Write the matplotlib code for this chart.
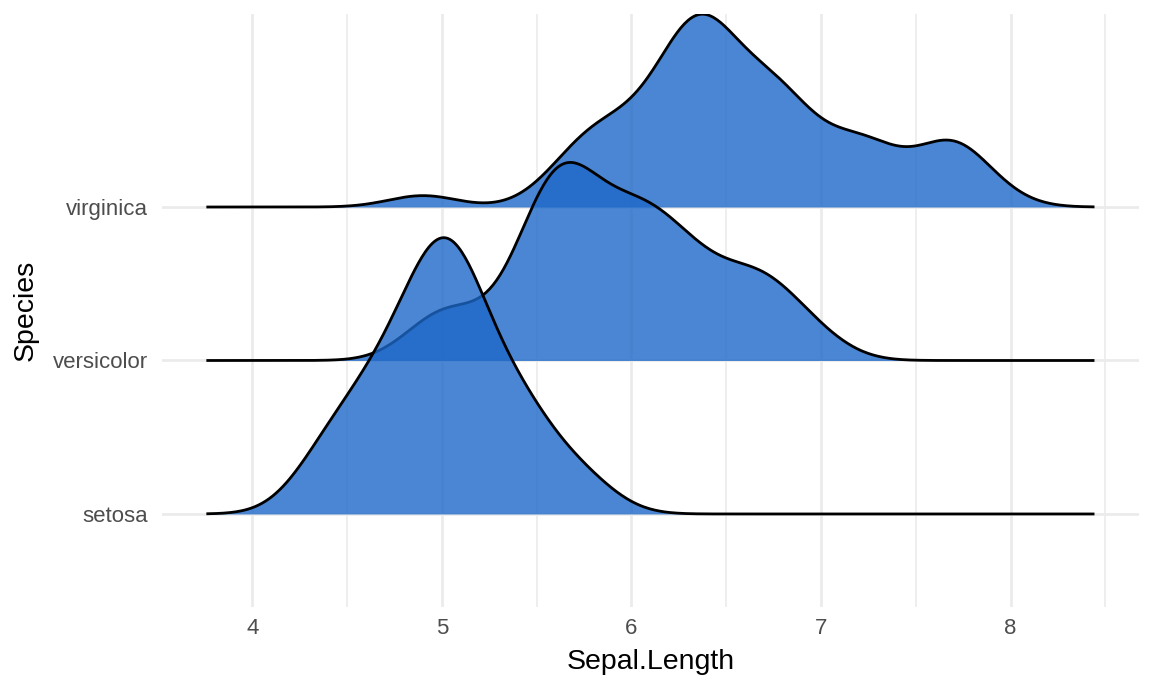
import numpy as np
import matplotlib
matplotlib.use("Agg")
import matplotlib.pyplot as plt

# iris Sepal.Length, by species
species = ["setosa", "versicolor", "virginica"]
setosa = [5.1, 4.9, 4.7, 4.6, 5.0, 5.4, 4.6, 5.0, 4.4, 4.9, 5.4, 4.8, 4.8, 4.3, 5.8,
          5.7, 5.4, 5.1, 5.7, 5.1, 5.4, 5.1, 4.6, 5.1, 4.8, 5.0, 5.0, 5.2, 5.2, 4.7,
          4.8, 5.4, 5.2, 5.5, 4.9, 5.0, 5.5, 4.9, 4.4, 5.1, 5.0, 4.5, 4.4, 5.0, 5.1,
          4.8, 5.1, 4.6, 5.3, 5.0]
versicolor = [7.0, 6.4, 6.9, 5.5, 6.5, 5.7, 6.3, 4.9, 6.6, 5.2, 5.0, 5.9, 6.0, 6.1, 5.6,
              6.7, 5.6, 5.8, 6.2, 5.6, 5.9, 6.1, 6.3, 6.1, 6.4, 6.6, 6.8, 6.7, 6.0, 5.7,
              5.5, 5.5, 5.8, 6.0, 5.4, 6.0, 6.7, 6.3, 5.6, 5.5, 5.5, 6.1, 5.8, 5.0, 5.6,
              5.7, 5.7, 6.2, 5.1, 5.7]
virginica = [6.3, 5.8, 7.1, 6.3, 6.5, 7.6, 4.9, 7.3, 6.7, 7.2, 6.5, 6.4, 6.8, 5.7, 5.8,
             6.4, 6.5, 7.7, 7.7, 6.0, 6.9, 5.6, 7.7, 6.3, 6.7, 7.2, 6.2, 6.1, 6.4, 7.2,
             7.4, 7.9, 6.4, 6.3, 6.1, 7.7, 6.3, 6.4, 6.0, 6.9, 6.7, 6.9, 5.8, 6.8, 6.7,
             6.7, 6.3, 6.5, 6.2, 5.9]
groups = [np.array(setosa), np.array(versicolor), np.array(virginica)]

x_ticks = [4, 5, 6, 7, 8]
ridge_scale = 1.8


def bw_nrd0(x):
    sd = np.std(x, ddof=1)
    iqr = np.percentile(x, 75) - np.percentile(x, 25)
    return 0.9 * min(sd, iqr / 1.34) * len(x) ** -0.2


def gauss_kde(x, grid, bw):
    z = (grid[:, None] - x[None, :]) / bw
    return np.exp(-0.5 * z ** 2).sum(axis=1) / (len(x) * bw * np.sqrt(2 * np.pi))


# joint bandwidth, like ggridges
bw = np.mean([bw_nrd0(g) for g in groups])
all_x = np.concatenate(groups)
lo, hi = all_x.min() - 3 * bw, all_x.max() + 3 * bw
grid = np.linspace(lo, hi, 512)
dens = [gauss_kde(g, grid, bw) for g in groups]
dmax = max(d.max() for d in dens)

fig = plt.figure(figsize=(11.52, 6.91), dpi=100)
ax = fig.add_axes([0.1406, 0.1216, 0.848, 0.858])

fill_col = "#1D68C8"
# draw top ridge first so the lower ones sit on top
for i in reversed(range(len(species))):
    base = i + 1
    h = base + dens[i] / dmax * ridge_scale
    z = 10 + (len(species) - i) * 2
    ax.fill_between(grid, base, h, color=fill_col, alpha=0.8, lw=0, zorder=z)
    ax.plot(grid, h, color="black", lw=2.0, zorder=z + 1, solid_capstyle="butt")

span = hi - lo
ax.set_xlim(lo - 0.05 * span, hi + 0.05 * span)
ax.set_ylim(0.394, 4.257)

ax.set_xticks(x_ticks)
ax.set_xticks([4.5, 5.5, 6.5, 7.5, 8.5], minor=True)
ax.set_yticks([1, 2, 3])
ax.set_yticklabels(species)

ax.grid(True, which="major", color="#EBEBEB", lw=2.0, zorder=0)
ax.grid(True, which="minor", axis="x", color="#EBEBEB", lw=1.2, zorder=0)
ax.set_axisbelow(True)
for s in ax.spines.values():
    s.set_visible(False)
ax.tick_params(which="both", length=0)
ax.tick_params(axis="x", pad=8, labelsize=16, labelcolor="#4D4D4D")
ax.tick_params(axis="y", pad=10, labelsize=16, labelcolor="#4D4D4D")
for lab in ax.get_xticklabels() + ax.get_yticklabels():
    lab.set_fontfamily("Liberation Sans")

ax.set_xlabel("Sepal.Length", fontsize=20.5, fontfamily="Liberation Sans", labelpad=7)
ax.set_ylabel("Species", fontsize=20.5, fontfamily="Liberation Sans", labelpad=10)

fig.savefig("out.png", dpi=100)
